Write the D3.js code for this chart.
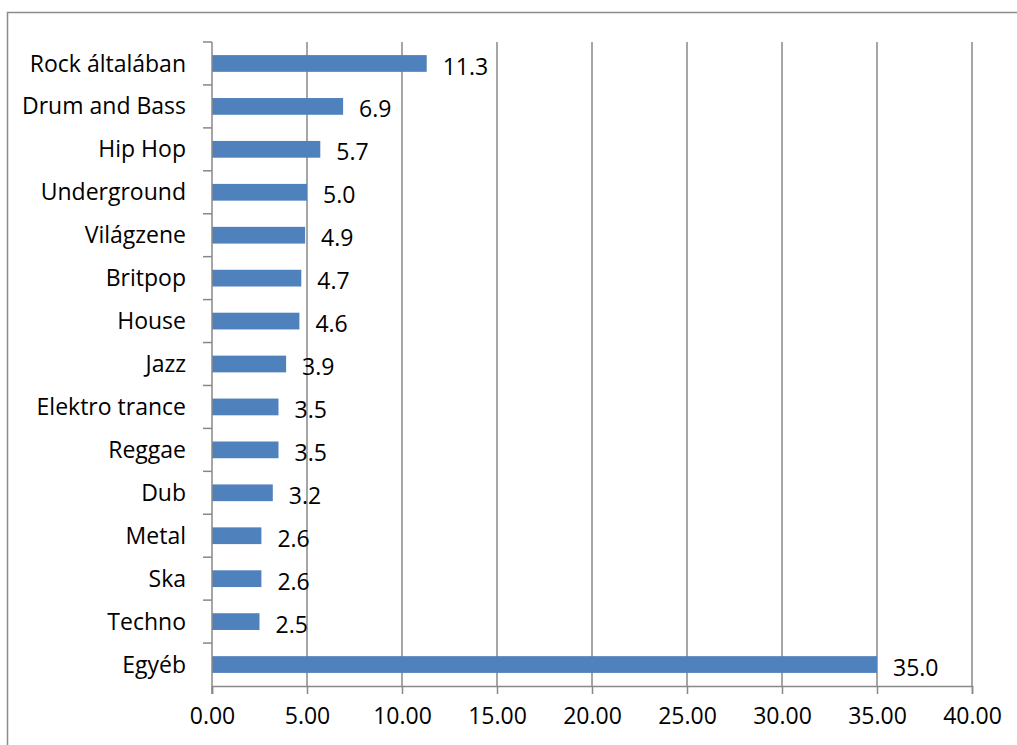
<!DOCTYPE html>
<html>
<head>
<meta charset="utf-8">
<script src="https://cdn.jsdelivr.net/npm/d3@7"></script>
<style>
  html, body { margin: 0; padding: 0; background: #fff; }
  svg { display: block; }
  text { font-family: "Open Sans", Lato, sans-serif; fill: #000; }
</style>
</head>
<body>
<svg id="chart" width="1017" height="745"></svg>
<script>
// Genre shares (%), top to bottom as listed
const genres = ["Rock általában", "Drum and Bass", "Hip Hop", "Underground", "Világzene",
  "Britpop", "House", "Jazz", "Elektro trance", "Reggae", "Dub", "Metal", "Ska", "Techno", "Egyéb"];
const shares = [11.3, 6.9, 5.7, 5.0, 4.9, 4.7, 4.6, 3.9, 3.5, 3.5, 3.2, 2.6, 2.6, 2.5, 35.0];
const xTicks = [0, 5, 10, 15, 20, 25, 30, 35, 40];

const FS = "23px";
const svg = d3.select("#chart");
const W = 1017, H = 745;
const margin = { top: 42, left: 212, right: W - 972, bottom: H - 686 };
const innerW = W - margin.left - margin.right;
const innerH = H - margin.top - margin.bottom;

// outer chart frame
svg.append("rect")
  .attr("x", 7.5).attr("y", 12.5)
  .attr("width", 1030).attr("height", 760)
  .attr("fill", "none").attr("stroke", "#8c8c8c").attr("stroke-width", 1.5);

const g = svg.append("g").attr("transform", `translate(${margin.left},${margin.top})`);

const x = d3.scaleLinear().domain([0, 40]).range([0, innerW]);
const y = d3.scaleBand().domain(genres).range([0, innerH]).paddingInner(0.61).paddingOuter(0.305);
const yRow = d3.scaleBand().domain(genres).range([0, innerH]);

// vertical gridlines
g.append("g").selectAll("line").data(xTicks.slice(1)).join("line")
  .attr("x1", d => x(d)).attr("x2", d => x(d))
  .attr("y1", 0).attr("y2", innerH)
  .attr("stroke", "#888").attr("stroke-width", 1.5);

// bars
g.append("g").selectAll("rect").data(shares).join("rect")
  .attr("x", 0)
  .attr("y", (d, i) => y(genres[i]))
  .attr("width", d => x(d))
  .attr("height", y.bandwidth())
  .attr("fill", "#4f81bd");

// value labels
g.append("g").selectAll("text").data(shares).join("text")
  .attr("x", d => x(d) + 16)
  .attr("y", (d, i) => yRow(genres[i]) + yRow.bandwidth() / 2 + 3)
  .attr("dy", "0.35em")
  .style("font-size", FS)
  .text(d => d.toFixed(1));

// x axis
const xAxis = g.append("g").attr("transform", `translate(0,${innerH})`)
  .call(d3.axisBottom(x).tickValues(xTicks).tickFormat(d3.format(".2f")).tickSize(8).tickPadding(14));
xAxis.select(".domain").attr("stroke", "#888").attr("stroke-width", 1.5);
xAxis.selectAll(".tick line").attr("stroke", "#888").attr("stroke-width", 1.5);
xAxis.selectAll(".tick text").style("font-size", FS).attr("fill", "#000");

// y axis with ticks at category boundaries
const yAxisG = g.append("g");
yAxisG.append("line").attr("x1", 0).attr("x2", 0).attr("y1", 0).attr("y2", innerH + 8)
  .attr("stroke", "#888").attr("stroke-width", 1.5);
yAxisG.selectAll("line.tk").data(genres).join("line").attr("class", "tk")
  .attr("x1", -9).attr("x2", 0)
  .attr("y1", d => yRow(d)).attr("y2", d => yRow(d))
  .attr("stroke", "#888").attr("stroke-width", 1.5);
yAxisG.selectAll("text").data(genres).join("text")
  .attr("x", -26)
  .attr("y", d => yRow(d) + yRow.bandwidth() / 2)
  .attr("dy", "0.35em")
  .attr("text-anchor", "end")
  .style("font-size", FS)
  .text(d => d);
</script>
</body>
</html>
